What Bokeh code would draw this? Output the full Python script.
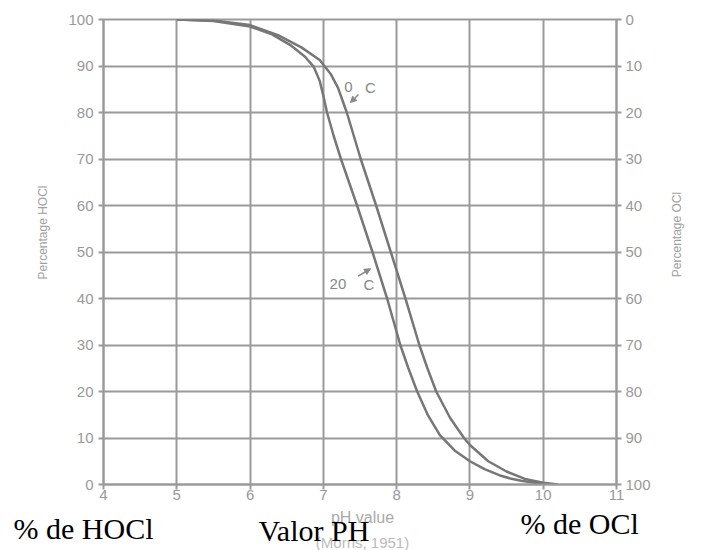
import math
from bokeh.plotting import figure
from bokeh.layouts import column, row
from bokeh.models import (Range1d, LinearAxis, FixedTicker, Label, Arrow,
                          NormalHead, ColumnDataSource)
from bokeh.embed import file_html
from bokeh.resources import INLINE

# ---- data ----
ph_ticks = [4, 5, 6, 7, 8, 9, 10, 11]
hocl_ticks = [0, 10, 20, 30, 40, 50, 60, 70, 80, 90, 100]
ocl_ticks = [0, 10, 20, 30, 40, 50, 60, 70, 80, 90, 100]

ph_0c = [5.0, 5.5, 6.0, 6.4, 6.7, 6.95, 7.1, 7.2, 7.32, 7.51, 7.72, 7.92, 8.12,
         8.31, 8.42, 8.54, 8.73, 8.92, 9.0, 9.25, 9.5, 9.75, 10.0, 10.2]
hocl_0c = [100, 99.8, 98.8, 96.5, 94.0, 91.3, 88.3, 85.3, 80, 70, 60, 50, 40,
           30, 25, 20, 14.3, 10, 8.5, 5.0, 2.8, 1.2, 0.4, 0]

ph_20c = [5.0, 5.5, 6.0, 6.3, 6.55, 6.75, 6.87, 6.95, 7.0, 7.05, 7.14, 7.24, 7.46,
          7.67, 7.87, 8.05, 8.16, 8.28, 8.43, 8.59, 8.8, 9.0, 9.2, 9.4, 9.55, 9.7, 10.0]
hocl_20c = [100, 99.7, 98.5, 96.8, 94.5, 92.0, 89.8, 86.8, 83.6, 80, 75, 70, 60,
            50, 40, 30, 25, 20, 14.8, 10.6, 7.2, 5.0, 3.3, 2.0, 1.3, 0.8, 0.1]

GRID = "#9a9a9a"
TXT = "#999999"
CURVE = "#777777"
NOTE = "#888888"

TOP_H = 506


def strip(w, h, xr, yr):
    f = figure(width=w, height=h, x_range=xr, y_range=yr, output_backend="svg",
               toolbar_location=None, min_border=0, x_axis_type=None, y_axis_type=None)
    f.grid.visible = False
    f.outline_line_color = None
    f.background_fill_color = "white"
    f.border_fill_color = "white"
    return f


def lab(fig, x, y, text, size="15px", color=TXT, font="Liberation Sans",
        align="center", angle=0.0, baseline="middle"):
    fig.add_layout(Label(x=x, y=y, text=text, text_font_size=size, text_color=color,
                         text_font=font, text_align=align, text_baseline=baseline,
                         angle=angle))


# ---- main chart ----
p = figure(width=598, height=TOP_H, x_range=Range1d(4, 11), y_range=Range1d(0, 100),
           output_backend="svg", toolbar_location=None,
           min_border_left=43, min_border_right=42, min_border_top=19,
           min_border_bottom=22)
p.extra_y_ranges = {"ocl": Range1d(100, 0)}

p.background_fill_color = "white"
p.border_fill_color = "white"
p.outline_line_color = GRID
p.outline_line_width = 2

p.xaxis.ticker = FixedTicker(ticks=ph_ticks)
p.yaxis.ticker = FixedTicker(ticks=hocl_ticks)
right = LinearAxis(y_range_name="ocl", ticker=FixedTicker(ticks=ocl_ticks))
p.add_layout(right, "right")

for ax in [p.xaxis[0], p.yaxis[0], right]:
    ax.axis_line_color = GRID
    ax.axis_line_width = 2
    ax.major_tick_line_color = GRID
    ax.major_tick_line_width = 2
    ax.major_tick_in = 0
    ax.major_tick_out = 5
    ax.minor_tick_line_color = None
    ax.major_label_text_color = TXT
    ax.major_label_text_font = "Liberation Sans"
    ax.major_label_text_font_size = "15px"
p.xaxis.major_label_standoff = 0
p.yaxis[0].major_label_standoff = 5
right.major_label_standoff = 4

p.xgrid.ticker = FixedTicker(ticks=ph_ticks)
p.ygrid.ticker = FixedTicker(ticks=hocl_ticks)
p.grid.grid_line_color = GRID
p.grid.grid_line_width = 2
p.grid.grid_line_alpha = 1.0

src0 = ColumnDataSource(data=dict(x=ph_0c, y=hocl_0c))
src20 = ColumnDataSource(data=dict(x=ph_20c, y=hocl_20c))
p.line("x", "y", source=src0, line_color=CURVE, line_width=2.5, line_join="round")
p.line("x", "y", source=src20, line_color=CURVE, line_width=2.5, line_join="round")

# curve labels
lab(p, 7.342, 85.4, "0", color=NOTE)
lab(p, 7.642, 85.3, "C", color=NOTE)
lab(p, 7.199, 43.1, "20", color=NOTE)
lab(p, 7.622, 43.1, "C", color=NOTE)
p.add_layout(Arrow(end=NormalHead(size=6, fill_color=NOTE, line_color=NOTE),
                   x_start=7.479, y_start=83.87, x_end=7.370, y_end=82.15,
                   line_color=NOTE, line_width=1.5))
p.add_layout(Arrow(end=NormalHead(size=6, fill_color=NOTE, line_color=NOTE),
                   x_start=7.475, y_start=44.8, x_end=7.643, y_end=46.4,
                   line_color=NOTE, line_width=1.5))

# ---- side strips (pixel coordinates of the page, y down) ----
left_s = strip(60, TOP_H, Range1d(0, 60), Range1d(TOP_H, 0))
right_s = strip(44, TOP_H, Range1d(658, 702), Range1d(TOP_H, 0))
bottom_s = strip(702, 550 - TOP_H, Range1d(0, 702), Range1d(550, TOP_H))

for fig in (p, left_s, right_s, bottom_s):
    try:
        fig.frame_align = False
    except AttributeError:
        pass

lab(left_s, 42, 232, "Percentage HOCl", size="12px", color="#a0a0a0", angle=math.pi / 2)
lab(right_s, 676, 234, "Percentage OCl", size="12px", color="#a0a0a0", angle=math.pi / 2)

lab(bottom_s, 362, 517, "pH value", size="16px", color="#aaaaaa")
lab(bottom_s, 362, 542, "(Morris, 1951)", size="15px", color="#bbbbbb")
lab(bottom_s, 13, 528, "% de HOCl", size="30px", color="black", font="Liberation Serif", align="left")
lab(bottom_s, 258, 530, "Valor PH", size="30px", color="black", font="Liberation Serif", align="left")
lab(bottom_s, 520, 523, "% de OCl", size="30px", color="black", font="Liberation Serif", align="left")

layout = column(row(left_s, p, right_s), bottom_s)
open("out.html", "w").write(file_html(layout, INLINE))
